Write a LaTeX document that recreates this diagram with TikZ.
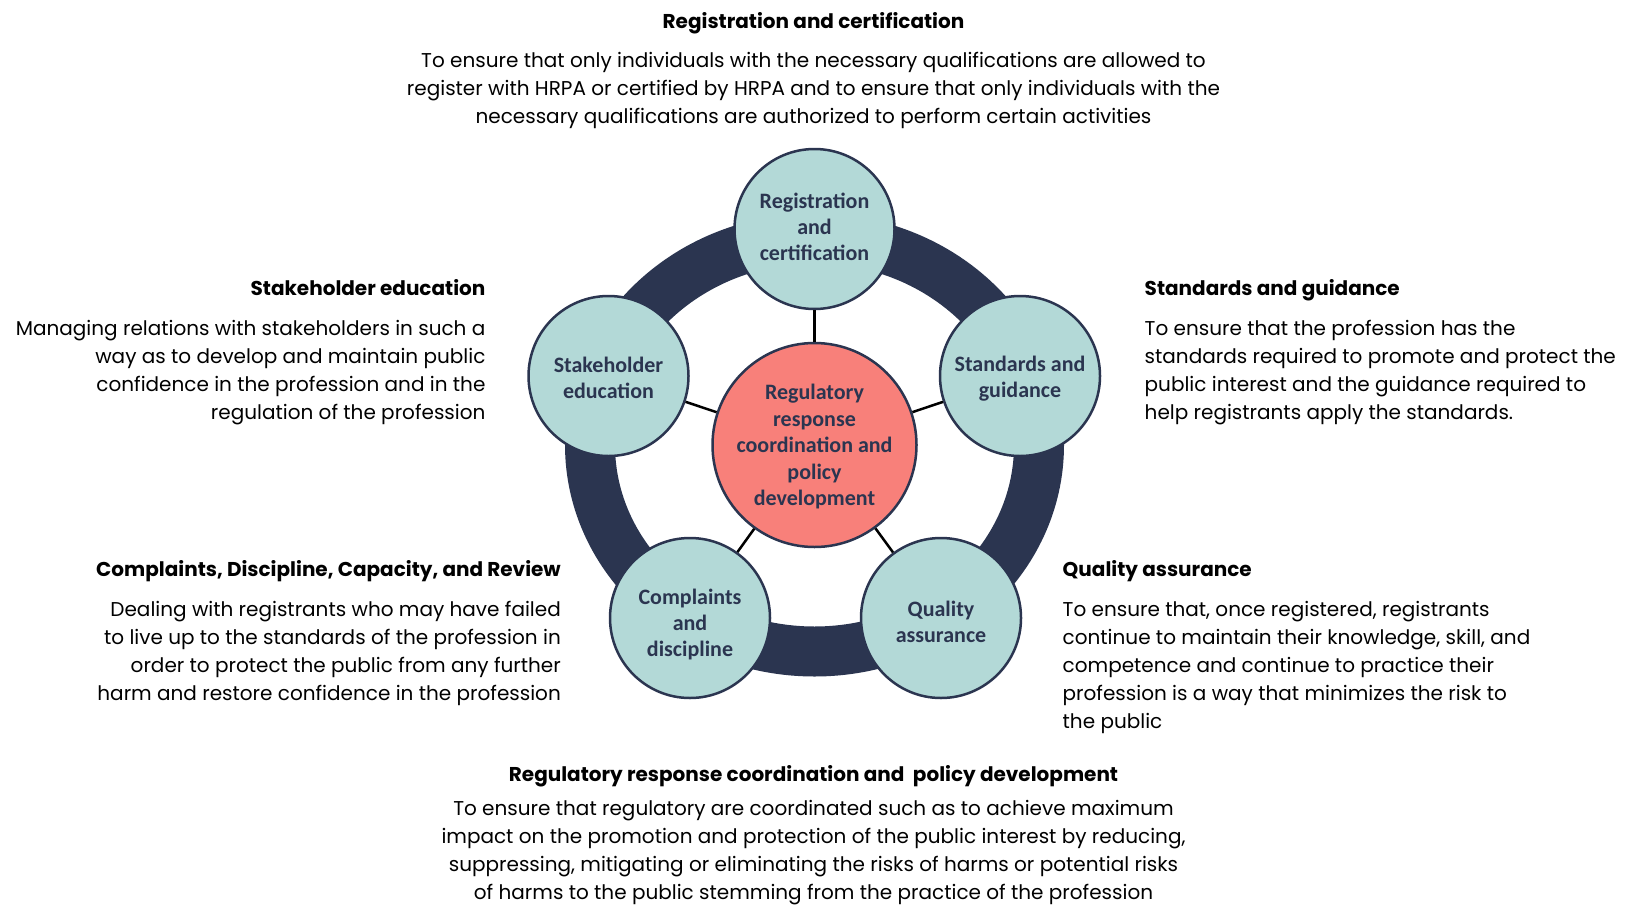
\documentclass[tikz,border=0pt]{standalone}
\usepackage{fontspec}
\setmainfont{Poppins}
\newfontfamily\labelfont{Carlito}
\definecolor{ringnavy}{HTML}{2B3550}
\definecolor{stagefill}{HTML}{B3D9D7}
\definecolor{corefill}{HTML}{F8807A}
\tikzset{
  stage/.style={circle, draw=ringnavy, line width=2.5pt, fill=stagefill,
    minimum size=160pt, inner sep=0pt},
  core/.style={stage, fill=corefill, minimum size=204pt},
  stagetext/.style={align=center, text=ringnavy, inner sep=0pt,
    font=\labelfont\bfseries\fontsize{22}{26}\selectfont},
  coretext/.style={stagetext, font=\labelfont\bfseries\fontsize{22}{26.5}\selectfont},
  link/.style={line width=2.5pt, black},
  head/.style={inner sep=0pt, font=\bfseries\fontsize{20}{26}\selectfont},
  desc/.style={inner sep=0pt, font=\fontsize{20}{28}\selectfont},
}
\begin{document}
\begin{tikzpicture}[x=1pt, y=-1pt]
\useasboundingbox[fill=white] (0,0) rectangle (1627,905);

% outer ring, slightly wider than tall
\coordinate (ringc) at (814.5,445);
\draw[ringnavy, line width=50pt] (ringc) ellipse[x radius=224.5, y radius=206.5];

% stages, each with its caption set at the centre
\node[core, label={[coretext, yshift=-2pt]center:{Regulatory\\response\\coordination and\\policy\\development}}] (core) at (814.5,445) {};
\node[stage, label={[stagetext, yshift=2pt]center:{Registration\\and\\certification}}] (reg) at (814.5,229) {};
\node[stage, label={[stagetext, yshift=-3pt]center:{Standards and\\guidance}}] (std) at (1020,376) {};
\node[stage, label={[stagetext, yshift=-1.5pt]center:{Stakeholder\\education}}] (stk) at (608.5,376) {};
\node[stage, label={[stagetext, yshift=-7pt]center:{Complaints\\and\\discipline}}] (cmp) at (690,618) {};
\node[stage, label={[stagetext, yshift=-4pt]center:{Quality\\assurance}}] (qa) at (941,618) {};

% spokes from the core to each stage
\foreach \s in {reg,std,stk,cmp,qa}{
  \draw[link] (core) -- (\s);
}

% headings and descriptions
\node[head] (hreg) at (813.5,23) {Registration and certification};
\node[desc, align=center] (dreg) at (813.5,90) {To ensure that only individuals with the necessary qualifications are allowed to\\register with HRPA or certified by HRPA and to ensure that only individuals with the\\necessary qualifications are authorized to perform certain activities};

\node[head, anchor=mid east] (hstk) at (485.6,293) {Stakeholder education};
\node[desc, align=right, anchor=east] (dstk) at (485.6,373) {Managing relations with stakeholders in such a\\way as to develop and maintain public\\confidence in the profession and in the\\regulation of the profession};

\node[head, anchor=mid west] (hstd) at (1144.5,293) {Standards and guidance};
\node[desc, align=left, anchor=west] (dstd) at (1144.5,373) {To ensure that the profession has the\\standards required to promote and protect the\\public interest and the guidance required to\\help registrants apply the standards.};

\node[head, anchor=mid east] (hcmp) at (561,574) {Complaints, Discipline, Capacity, and Review};
\node[desc, align=right, anchor=east] (dcmp) at (561,653) {Dealing with registrants who may have failed\\to live up to the standards of the profession in\\order to protect the public from any further\\harm and restore confidence in the profession};

\node[head, anchor=mid west] (hqa) at (1062.5,574) {Quality assurance};
\node[desc, align=left, anchor=west] (dqa) at (1062.5,667) {To ensure that, once registered, registrants\\continue to maintain their knowledge, skill, and\\competence and continue to practice their\\profession is a way that minimizes the risk to\\the public};

\node[head] (hcore) at (813.5,776) {Regulatory response coordination and\ \ policy development};
\node[desc, align=center] (dcore) at (813.5,853) {To ensure that regulatory are coordinated such as to achieve maximum\\impact on the promotion and protection of the public interest by reducing,\\suppressing, mitigating or eliminating the risks of harms or potential risks\\of harms to the public stemming from the practice of the profession};
\end{tikzpicture}
\end{document}
